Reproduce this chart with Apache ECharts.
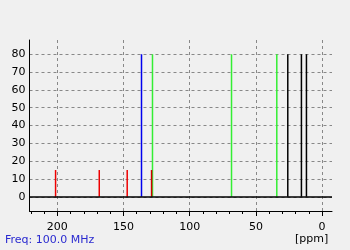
<!DOCTYPE html>
<html><head><meta charset="utf-8">
<script src="https://cdn.jsdelivr.net/npm/echarts@6/dist/echarts.min.js"></script>
<style>html,body{margin:0;padding:0;background:#f0f0f0;}#c{width:350px;height:250px;}</style>
</head><body><div id="c"></div>
<script>
// peak positions (ppm), intensities and colours
const peakPpm    = [201.3, 168.3, 147.2, 136.4, 128.1, 128.8, 68.4, 34.2, 25.9, 15.6, 11.8];
const peakHeight = [15,    15,    15,    80,    80,    15,    80,   80,   80,   80,   80];
const peakColor  = ['#ee0000','#ee0000','#ee0000','#0000ee','#33ee33','#cc0000','#33ee33','#33ee33','#000000','#000000','#000000'];
const xLabels = [0, 50, 100, 150, 200];
const xMinor  = [0,10,20,30,40,50,60,70,80,90,100,110,120,130,140,150,160,170,180,190,200,210,220];
const yLabels = [0, 10, 20, 30, 40, 50, 60, 70, 80];
const xMin = -7.5, xMax = 221, yMin = -8, yMax = 88;

const chart = echarts.init(document.getElementById('c'), null, {renderer: 'canvas'});
const font = 'DejaVu Sans';
const data = peakPpm.map((p, i) => [p, peakHeight[i], i]);
chart.setOption({
  backgroundColor: '#f0f0f0',
  animation: false,
  grid: {left: 29.5, right: 18, top: 40, bottom: 39, containLabel: false},
  xAxis: [{
    type: 'value', inverse: true, min: xMin, max: xMax, position: 'bottom',
    axisLine: {show: true, onZero: false, lineStyle: {color: '#000', width: 1}},
    axisTick: {show: true, length: 5, inside: false, customValues: xLabels, lineStyle: {color: '#000'}},
    axisLabel: {customValues: xLabels, color: '#000', fontFamily: font, fontSize: 11, margin: 11},
    splitLine: {show: true, lineStyle: {color: '#888', type: [3, 3], width: 1}}
  }, {
    type: 'value', inverse: true, min: xMin, max: xMax, position: 'bottom',
    axisLine: {show: false, onZero: false},
    axisTick: {show: true, length: 3, customValues: xMinor, lineStyle: {color: '#000'}},
    axisLabel: {show: false},
    splitLine: {show: false}
  }],
  yAxis: {
    type: 'value', min: yMin, max: yMax, position: 'left',
    axisLine: {show: true, onZero: false, lineStyle: {color: '#000', width: 1}},
    axisTick: {show: false, customValues: yLabels},
    axisLabel: {customValues: yLabels, color: '#000', fontFamily: font, fontSize: 11, margin: 4},
    splitLine: {show: true, lineStyle: {color: '#888', type: [3, 3], width: 1}}
  },
  series: [{
    type: 'custom',
    xAxisIndex: 0,
    data: data,
    renderItem: function (params, api) {
      const x = api.value(0), h = api.value(1), ci = api.value(2);
      const p0 = api.coord([x, 0]);
      const p1 = api.coord([x, h]);
      return {type: 'line', shape: {x1: p0[0], y1: p0[1], x2: p1[0], y2: p1[1]},
              style: {stroke: peakColor[ci], lineWidth: 1.5}};
    },
    markLine: {
      silent: true, symbol: 'none', label: {show: false},
      lineStyle: {color: '#000', type: 'solid', width: 1.5},
      data: [{yAxis: 0}]
    },
    z: 3
  }],
  graphic: [
    {type: 'text', left: 5, top: 235, style: {text: 'Freq: 100.0 MHz', fill: '#2a2ad0', font: '11px "DejaVu Sans"'}},
    {type: 'text', left: 295, top: 234, style: {text: '[ppm]', fill: '#000', font: '11px "DejaVu Sans"'}}
  ]
});
</script></body></html>
